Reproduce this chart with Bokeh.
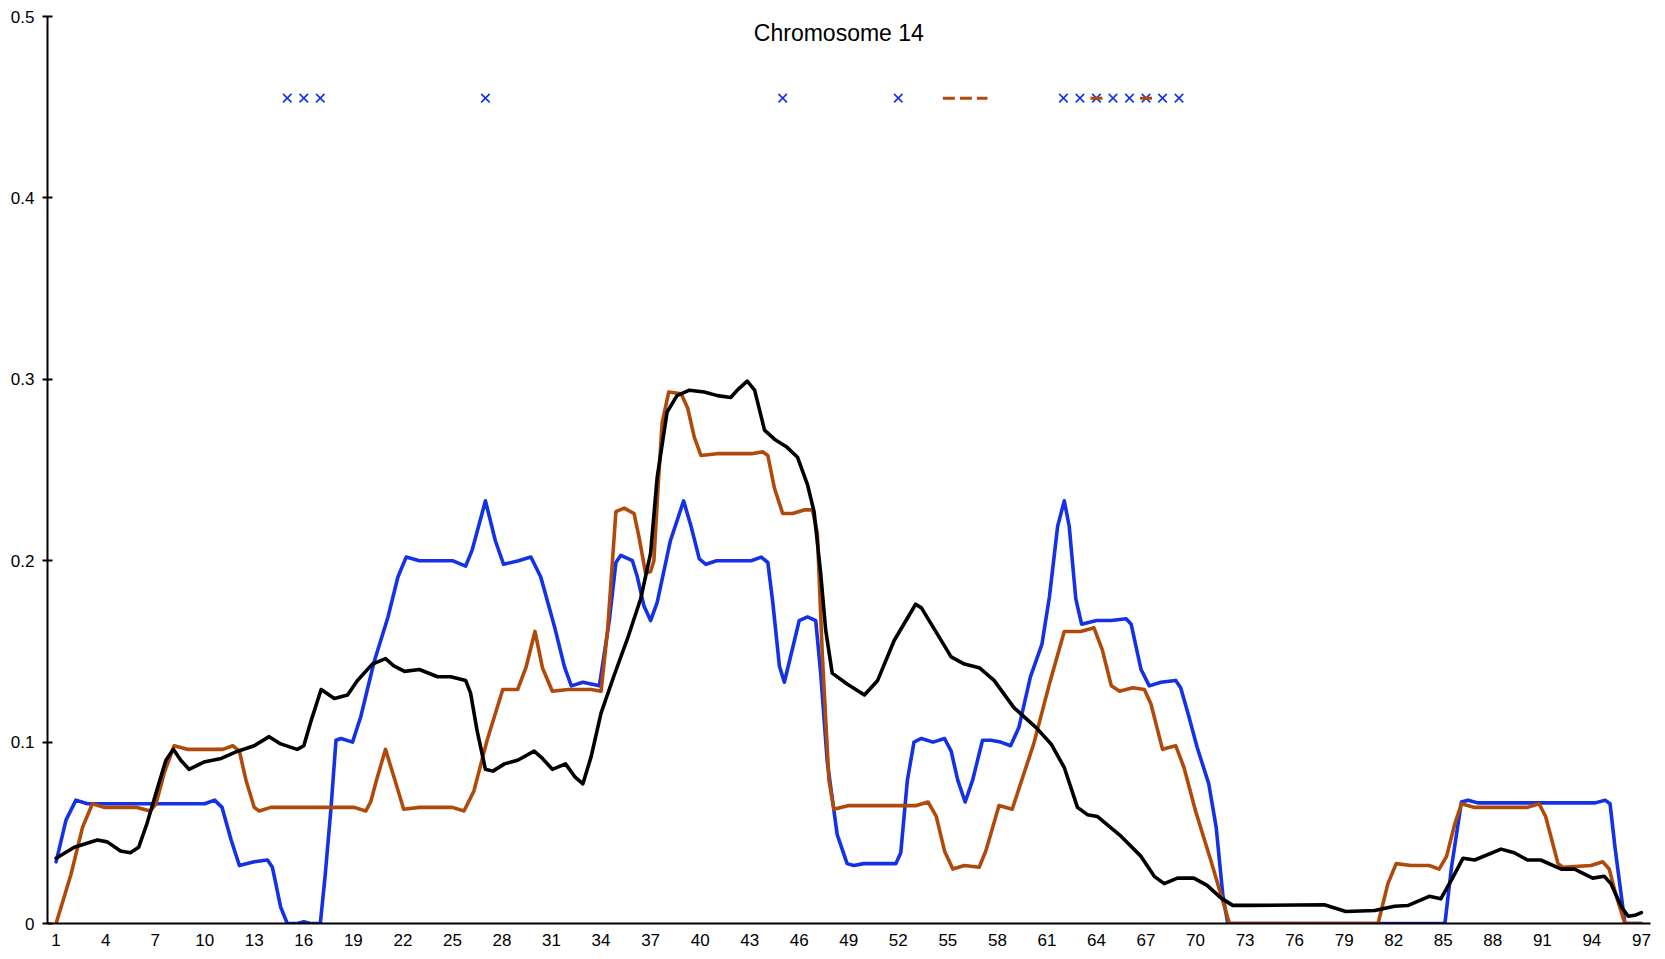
from bokeh.plotting import figure
from bokeh.models import FixedTicker, Label, Range1d
from bokeh.embed import file_html
from bokeh.resources import INLINE

# ---------------- data ----------------
blue_x = [1.0, 1.6, 2.2, 2.9, 10.0, 10.6, 11.05, 11.6, 12.1, 13.0, 13.8, 14.1, 14.6, 15.0, 15.6, 16.0,
          16.4, 17.0, 17.3, 17.65, 17.95, 18.25, 18.95, 19.45, 20.25, 21.1, 21.7, 22.2, 23.0, 25.0,
          25.8, 26.2, 27.0, 27.6, 28.1, 29.0, 29.75, 30.35, 31.2, 31.8, 32.2, 32.9, 33.9, 34.5, 34.9,
          35.2, 35.9, 36.2, 36.6, 37.0, 37.4, 38.2, 39.0, 39.45, 39.95, 40.35, 41.0, 43.1, 43.7, 44.1,
          44.4, 44.8, 45.1, 45.5, 46.0, 46.5, 47.0, 47.3, 47.7, 48.3, 48.9, 49.3, 49.9, 51.0, 51.85,
          52.15, 52.55, 52.95, 53.4, 54.1, 54.8, 55.2, 55.6, 56.05, 56.5, 57.1, 57.6, 58.2, 58.8, 59.3,
          60.0, 60.7, 61.15, 61.65, 62.05, 62.35, 62.75, 63.1, 64.0, 64.9, 65.8, 66.1, 66.7, 67.2, 67.9,
          68.8, 69.1, 69.6, 70.1, 70.8, 71.25, 71.65, 71.95, 85.1, 85.5, 86.1, 86.5, 87.1, 94.2, 94.8,
          95.1, 95.4, 96.0, 97.0]
blue_y = [0.034, 0.057, 0.068, 0.066, 0.066, 0.068, 0.064, 0.046, 0.032, 0.034, 0.035, 0.031, 0.009, 0.0, 0.0, 0.001,
          0.0, 0.0, 0.027, 0.064, 0.101, 0.102, 0.100, 0.114, 0.144, 0.169, 0.191, 0.202, 0.200, 0.200,
          0.197, 0.206, 0.233, 0.211, 0.198, 0.200, 0.202, 0.191, 0.163, 0.141, 0.131, 0.133, 0.131, 0.167, 0.199,
          0.203, 0.200, 0.191, 0.175, 0.167, 0.177, 0.211, 0.233, 0.219, 0.201, 0.198, 0.200, 0.200, 0.202, 0.199,
          0.177, 0.142, 0.133, 0.148, 0.167, 0.169, 0.167, 0.138, 0.089, 0.049, 0.033, 0.032, 0.033, 0.033, 0.033,
          0.039, 0.079, 0.100, 0.102, 0.100, 0.102, 0.095, 0.079, 0.067, 0.079, 0.101, 0.101, 0.100, 0.098, 0.108,
          0.136, 0.154, 0.180, 0.219, 0.233, 0.219, 0.179, 0.165, 0.167, 0.167, 0.168, 0.165, 0.140, 0.131, 0.133,
          0.134, 0.130, 0.114, 0.097, 0.077, 0.053, 0.016, 0.0, 0.0, 0.031, 0.067, 0.068, 0.0665, 0.0665, 0.068,
          0.066, 0.042, 0.0, 0.0]

orange_x = [1.0, 1.9, 2.6, 3.2, 3.9, 5.9, 6.7, 7.05, 7.55, 8.15, 8.95, 11.1, 11.7, 12.1, 12.5, 13.0, 13.3,
            14.0, 19.05, 19.75, 20.05, 20.4, 20.95, 21.45, 22.05, 23.0, 25.0, 25.7, 26.3, 27.1, 28.05,
            28.95, 29.45, 30.0, 30.45, 31.05, 32.0, 33.4, 34.0, 34.4, 34.9, 35.4, 36.0, 36.3, 36.7, 37.0,
            37.2, 37.45, 37.7, 38.1, 38.85, 39.25, 39.65, 40.05, 41.0, 43.1, 43.8, 44.1, 44.5, 45.0, 45.6,
            46.3, 46.8, 47.1, 47.4, 47.8, 48.1, 49.0, 53.1, 53.8, 54.3, 54.8, 55.3, 56.0, 56.9, 57.3, 58.1,
            58.9, 59.4, 60.2, 61.15, 62.05, 63.05, 63.85, 64.35, 64.9, 65.4, 66.2, 66.9, 67.3, 68.0, 68.8,
            69.3, 70.0, 70.95, 72.05, 81.05, 81.65, 82.15, 83.05, 84.15, 84.75, 85.2, 85.7, 86.1, 86.9,
            90.1, 90.8, 91.2, 91.95, 92.25, 93.95, 94.65, 95.05, 95.45, 96.0, 97.0]
orange_y = [0.0, 0.027, 0.053, 0.066, 0.064, 0.064, 0.062, 0.066, 0.083, 0.098, 0.096, 0.096, 0.098, 0.095, 0.079, 0.064, 0.062,
            0.064, 0.064, 0.062, 0.067, 0.079, 0.096, 0.081, 0.063, 0.064, 0.064, 0.062, 0.073, 0.101, 0.129,
            0.129, 0.141, 0.161, 0.141, 0.128, 0.129, 0.129, 0.128, 0.162, 0.227, 0.229, 0.226, 0.213, 0.193, 0.194,
            0.200, 0.240, 0.276, 0.293, 0.292, 0.284, 0.268, 0.258, 0.259, 0.259, 0.260, 0.258, 0.240, 0.226, 0.226,
            0.228, 0.228, 0.215, 0.148, 0.079, 0.063, 0.065, 0.065, 0.067, 0.059, 0.040, 0.030, 0.032, 0.031, 0.040, 0.065,
            0.063, 0.077, 0.099, 0.132, 0.161, 0.161, 0.163, 0.151, 0.131, 0.128, 0.130, 0.129, 0.121, 0.096, 0.098,
            0.086, 0.062, 0.034, 0.0, 0.0, 0.022, 0.033, 0.032, 0.032, 0.030, 0.037, 0.055, 0.066, 0.064,
            0.064, 0.066, 0.059, 0.033, 0.031, 0.032, 0.034, 0.030, 0.016, 0.0, 0.0]

black_x = [1.0, 2.1, 3.5, 4.1, 4.9, 5.5, 6.0, 6.5, 7.15, 7.65, 8.1, 8.55, 9.05, 9.95, 11.0, 12.0, 13.0, 13.9,
           14.6, 15.6, 16.0, 16.45, 17.05, 17.85, 18.65, 19.25, 20.15, 20.95, 21.45, 22.1, 23.0, 24.1, 24.9,
           25.8, 26.1, 26.5, 27.0, 27.45, 28.15, 28.95, 29.95, 30.45, 31.05, 31.85, 32.4, 32.9, 33.4, 34.0,
           34.8, 35.6, 36.4, 37.0, 37.4, 38.0, 38.6, 39.35, 40.25, 41.05, 41.85, 42.25, 42.85, 43.3, 43.9,
           44.5, 45.2, 45.9, 46.5, 46.9, 47.3, 47.6, 48.0, 48.9, 49.95, 50.75, 51.75, 53.05, 53.4, 54.2,
           55.2, 56.0, 56.9, 57.8, 59.0, 60.35, 61.25, 62.05, 62.85, 63.45, 64.05, 65.5, 66.7, 67.5, 68.1,
           68.9, 69.9, 70.7, 71.55, 72.25, 73.35, 77.8, 79.1, 80.85, 82.05, 82.85, 84.15, 84.85, 85.5, 86.2,
           86.9, 88.5, 89.3, 90.1, 90.9, 92.15, 92.95, 94.05, 94.75, 95.15, 95.8, 96.2, 96.6, 97.0]
black_y = [0.036, 0.042, 0.046, 0.045, 0.040, 0.039, 0.042, 0.055, 0.075, 0.090, 0.096, 0.090, 0.085, 0.089, 0.091, 0.095, 0.098, 0.103,
           0.099, 0.096, 0.098, 0.112, 0.129, 0.124, 0.126, 0.134, 0.143, 0.146, 0.142, 0.139, 0.140, 0.136, 0.136,
           0.134, 0.127, 0.106, 0.085, 0.084, 0.088, 0.090, 0.095, 0.091, 0.085, 0.088, 0.081, 0.077, 0.092, 0.116,
           0.137, 0.157, 0.179, 0.204, 0.246, 0.282, 0.291, 0.294, 0.293, 0.291, 0.290, 0.294, 0.299, 0.294, 0.272,
           0.267, 0.263, 0.257, 0.242, 0.227, 0.193, 0.162, 0.138, 0.132, 0.126, 0.134, 0.156, 0.176, 0.174, 0.162,
           0.147, 0.143, 0.141, 0.134, 0.119, 0.108, 0.099, 0.086, 0.064, 0.060, 0.059, 0.048, 0.037, 0.026, 0.022,
           0.025, 0.025, 0.021, 0.014, 0.010, 0.010, 0.0103, 0.0066, 0.0072, 0.0095, 0.0099, 0.015, 0.0136, 0.024, 0.036,
           0.035, 0.041, 0.039, 0.035, 0.035, 0.030, 0.030, 0.025, 0.026, 0.022, 0.009, 0.004, 0.0045, 0.006]

marker_level = 0.455
blue_marks = [15, 16, 17, 27, 45, 52, 62, 63, 64, 65, 66, 67, 68, 69]
orange_marks = [64, 67]
orange_segment = [54.7, 57.4]

x_ticks = list(range(1, 98, 3))
y_ticks = [0, 0.1, 0.2, 0.3, 0.4, 0.5]
y_labels = ["0", "0.1", "0.2", "0.3", "0.4", "0.5"]
title_text = "Chromosome 14"

BLUE = "#1431e6"
ORANGE = "#b04a0a"
BLACK = "#000000"
FONT = "Liberation Sans"

# ---------------- figure ----------------
p = figure(width=1658, height=951, output_backend="svg", toolbar_location=None,
           x_range=Range1d(0.48, 97.55), y_range=Range1d(0, 0.5),
           min_border_left=47, min_border_right=8, min_border_top=16, min_border_bottom=28)
p.outline_line_color = None
p.xgrid.visible = False
p.ygrid.visible = False
p.background_fill_color = "white"
p.border_fill_color = "white"

p.line(blue_x, blue_y, line_color=BLUE, line_width=3.6, line_join="round", line_cap="round")
p.line(orange_x, orange_y, line_color=ORANGE, line_width=3.6, line_join="round", line_cap="round")
p.line(black_x, black_y, line_color=BLACK, line_width=3.6, line_join="round", line_cap="round")

p.scatter(blue_marks, [marker_level] * len(blue_marks), marker="x", size=12,
          line_color=BLUE, line_width=1.6)
p.scatter(orange_marks, [marker_level] * len(orange_marks), marker="dash", size=12,
          line_color=ORANGE, line_width=3)
p.line(orange_segment, [marker_level] * len(orange_segment), line_color=ORANGE,
       line_width=3, line_dash="12 5")

p.add_layout(Label(x=48.4, y=0.491, text=title_text, text_align="center",
                   text_baseline="middle", text_font=FONT, text_font_size="23px",
                   text_color="black"))

xa = p.xaxis[0]
xa.ticker = FixedTicker(ticks=x_ticks)
xa.major_tick_out = 0
xa.major_tick_in = 0
xa.minor_tick_out = 0
xa.minor_tick_in = 0
xa.axis_line_width = 2
xa.major_label_standoff = 10
xa.major_label_text_font = FONT
xa.major_label_text_font_size = "17px"
xa.major_label_text_color = "black"

ya = p.yaxis[0]
ya.ticker = FixedTicker(ticks=y_ticks)
ya.major_label_overrides = {t: s for t, s in zip(y_ticks, y_labels)}
ya.major_tick_out = 5
ya.major_tick_in = 5
ya.major_tick_line_width = 2
ya.minor_tick_out = 0
ya.minor_tick_in = 0
ya.axis_line_width = 2
ya.major_label_standoff = 8
ya.major_label_text_font = FONT
ya.major_label_text_font_size = "17px"
ya.major_label_text_color = "black"

open("out.html", "w").write(file_html(p, INLINE))
